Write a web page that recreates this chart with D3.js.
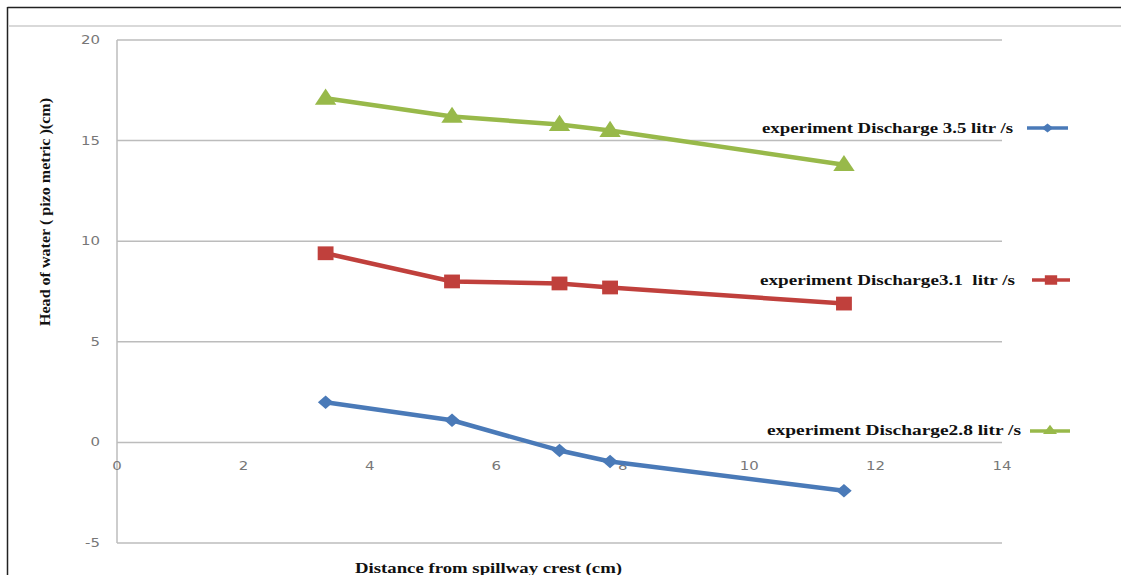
<!DOCTYPE html>
<html><head><meta charset="utf-8">
<script src="https://cdn.jsdelivr.net/npm/d3@7"></script>
<style>body{margin:0;background:#fff;} svg{display:block;} text{white-space:pre;}</style>
</head><body>
<svg id="c" width="1121" height="575"></svg>
<script>
const xValues = [3.3, 5.3, 7.0, 7.8, 11.5];
const blueValues = [2.0, 1.1, -0.4, -0.95, -2.4];
const redValues = [9.4, 8.0, 7.9, 7.7, 6.9];
const greenValues = [17.1, 16.2, 15.8, 15.5, 13.8];
const xTicks = [0, 2, 4, 6, 8, 10, 12, 14];
const yTicks = [-5, 0, 5, 10, 15, 20];
const legendLabels = ["experiment Discharge 3.5 litr /s", "experiment Discharge3.1  litr /s", "experiment Discharge2.8 litr /s"];
const seriesColors = ["#4a7ab8", "#c0403c", "#98b94a"];
const seriesShapes = [d3.symbolDiamond2, d3.symbolSquare, d3.symbolTriangle];

const svg = d3.select("#c");
const x = d3.scaleLinear().domain([0, 14]).range([117, 1002]);
const y = d3.scaleLinear().domain([-5, 20]).range([543, 40]);
const serif = "'Liberation Serif', 'Times New Roman', serif";
const sans = "Verdana, 'DejaVu Sans', sans-serif";

// frame
svg.append("line").attr("x1", 7.5).attr("x2", 1121).attr("y1", 7.5).attr("y2", 7.5).attr("stroke", "#222").attr("stroke-width", 1.5);
svg.append("line").attr("x1", 7.5).attr("x2", 7.5).attr("y1", 7).attr("y2", 575).attr("stroke", "#222").attr("stroke-width", 1.5);
svg.append("line").attr("x1", 8).attr("x2", 1121).attr("y1", 26).attr("y2", 26).attr("stroke", "#ccc").attr("stroke-width", 1.5);

// gridlines
svg.append("g").selectAll("line").data(yTicks).join("line")
  .attr("x1", x(0)).attr("x2", x(14)).attr("y1", d => y(d)).attr("y2", d => y(d))
  .attr("stroke", "#bcbcbc").attr("stroke-width", 1.5);
svg.append("line").attr("x1", x(0)).attr("x2", x(0)).attr("y1", y(20)).attr("y2", y(-5)).attr("stroke", "#bcbcbc").attr("stroke-width", 1.5);

// y tick labels
svg.append("g").selectAll("text").data(yTicks).join("text")
  .attr("transform", d => `translate(100,${y(d) + 4}) scale(1.3,1)`).attr("text-anchor", "end")
  .attr("font-family", sans).attr("font-size", 11.5).attr("fill", "#777").text(d => d);
// x tick labels
svg.append("g").selectAll("text").data(xTicks).join("text")
  .attr("transform", d => `translate(${x(d)},${y(0) + 28}) scale(1.3,1)`).attr("text-anchor", "middle")
  .attr("font-family", sans).attr("font-size", 11.5).attr("fill", "#777").text(d => d);

// titles
svg.append("text").attr("transform", "translate(50,212) rotate(-90)").attr("text-anchor", "middle")
  .attr("font-family", serif).attr("font-weight", "bold").attr("font-size", 15.5).attr("fill", "#111")
  .attr("textLength", 228).attr("lengthAdjust", "spacingAndGlyphs")
  .text("Head of water ( pizo metric )(cm)");
svg.append("text").attr("x", 355).attr("y", 573)
  .attr("font-family", serif).attr("font-weight", "bold").attr("font-size", 15).attr("fill", "#111")
  .attr("textLength", 267).attr("lengthAdjust", "spacingAndGlyphs")
  .text("Distance from spillway crest (cm)");

// series
const allSeries = [blueValues, redValues, greenValues];
const line = d3.line().x(d => x(d[0])).y(d => y(d[1]));
const sizes = [115, 190, 150];
allSeries.forEach((vals, i) => {
  const pts = xValues.map((xv, j) => [xv, vals[j]]);
  svg.append("path").datum(pts).attr("d", line).attr("fill", "none")
    .attr("stroke", seriesColors[i]).attr("stroke-width", 4.5).attr("stroke-linejoin", "round");
  svg.append("g").selectAll("path").data(pts).join("path")
    .attr("transform", d => `translate(${x(d[0])},${y(d[1]) + (i === 2 ? 1 : 0)}) scale(1.15,1)`)
    .attr("d", d3.symbol().type(seriesShapes[i]).size(sizes[i])).attr("fill", seriesColors[i]);
});

// legend
const legend = [
  {label: legendLabels[0], tx: 762, ty: 133, w: 251, lx1: 1027, lx2: 1068, ly: 128, c: 0},
  {label: legendLabels[1], tx: 760, ty: 285, w: 255, lx1: 1032, lx2: 1070, ly: 280, c: 1},
  {label: legendLabels[2], tx: 767, ty: 435, w: 254, lx1: 1030, lx2: 1070, ly: 431, c: 2}
];
legend.forEach(l => {
  svg.append("text").attr("x", l.tx).attr("y", l.ty)
    .attr("font-family", serif).attr("font-weight", "bold").attr("font-size", 15).attr("fill", "#111")
    .attr("textLength", l.w).attr("lengthAdjust", "spacingAndGlyphs")
    .text(l.label);
  svg.append("line").attr("x1", l.lx1).attr("x2", l.lx2).attr("y1", l.ly).attr("y2", l.ly)
    .attr("stroke", seriesColors[l.c]).attr("stroke-width", 3.5);
  svg.append("path").attr("transform", `translate(${(l.lx1 + l.lx2) / 2},${l.ly}) scale(1.3,1)`)
    .attr("d", d3.symbol().type(seriesShapes[l.c]).size(l.c === 1 ? 90 : 50)).attr("fill", seriesColors[l.c]);
});
</script>
</body></html>
